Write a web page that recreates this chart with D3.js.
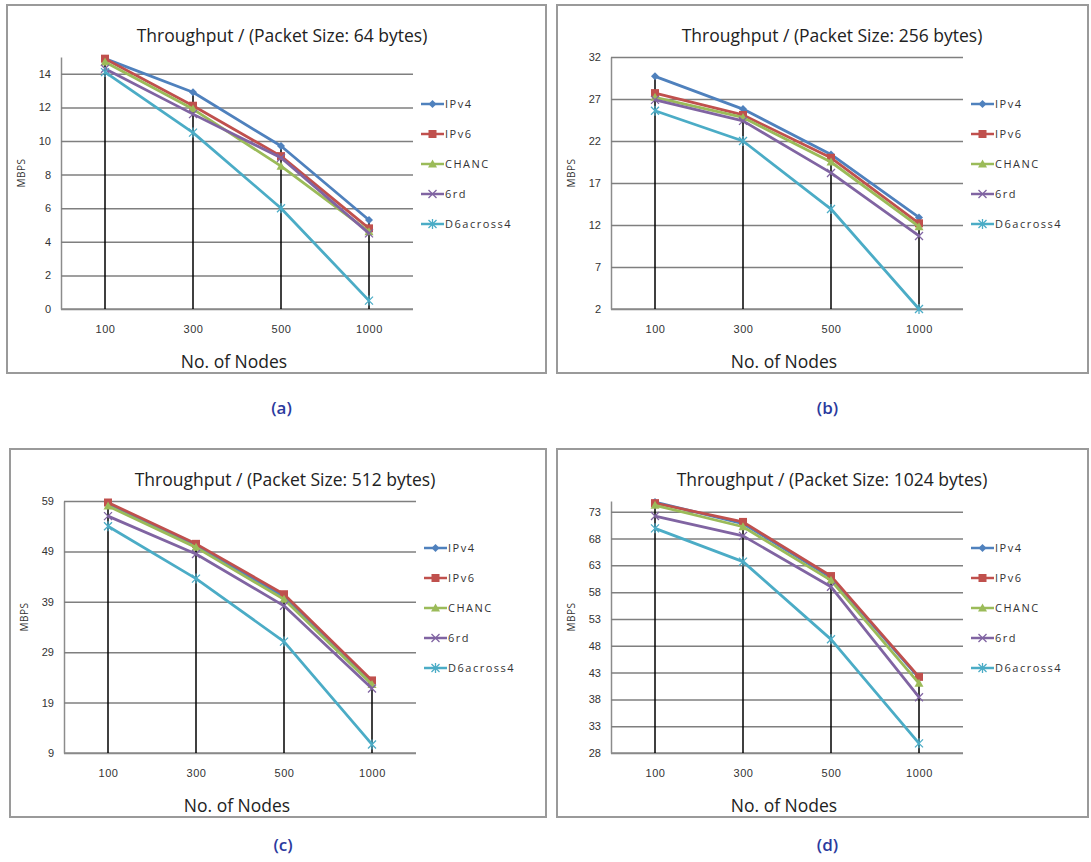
<!DOCTYPE html>
<html>
<head>
<meta charset="utf-8">
<script src="https://cdn.jsdelivr.net/npm/d3@7"></script>
<style>
  body { margin: 0; background: #fff; }
  svg { font-family: "Open Sans", "Noto Sans", sans-serif; }
  .grid line { stroke: #7f7f7f; stroke-width: 1.5; }
  .grid .domain { stroke: #8c8c8c; stroke-width: 1.5; }
  .grid text { fill: #333; font-size: 11px; }
  .xaxis .domain { stroke: #8c8c8c; stroke-width: 1.5; }
  .xaxis text { fill: #333; font-size: 11px; letter-spacing: 0.6px; }
</style>
</head>
<body>
<script>
// categories and series
var nodes = ["100", "300", "500", "1000"];
var seriesNames = ["IPv4", "IPv6", "CHANC", "6rd", "D6across4"];
var seriesColors = ["#4f81bd", "#c0504d", "#9bbb59", "#8064a2", "#4bacc6"];

// values, one row per series (IPv4, IPv6, CHANC, 6rd, D6across4)
var thr64 = [
    [14.9, 12.9, 9.7, 5.3],
    [14.9, 12.1, 9.1, 4.8],
    [14.7, 11.9, 8.5, 4.6],
    [14.3, 11.6, 9.0, 4.5],
    [14.1, 10.5, 6.0, 0.5]
];
var thr256 = [
    [29.7, 25.8, 20.4, 12.9],
    [27.7, 25.1, 20.0, 12.2],
    [27.2, 24.8, 19.5, 11.8],
    [26.9, 24.4, 18.2, 10.7],
    [25.6, 22.0, 13.9, 2.0]
];
var thr512 = [
    [58.5, 50.2, 40.0, 23.0],
    [58.7, 50.5, 40.5, 23.4],
    [58.0, 49.8, 39.5, 22.6],
    [56.0, 48.5, 38.2, 21.8],
    [54.0, 43.6, 31.1, 10.7]
];
var thr1024 = [
    [74.8, 70.8, 60.7, 42.0],
    [74.6, 71.1, 61.0, 42.2],
    [74.2, 70.2, 60.2, 41.0],
    [72.2, 68.5, 59.0, 38.4],
    [69.9, 63.7, 49.2, 29.8]
];

// y ticks and axis extents
var ticks64 = [0, 2, 4, 6, 8, 10, 12, 14];
var ticks256 = [2, 7, 12, 17, 22, 27, 32];
var ticks512 = [9, 19, 29, 39, 49, 59];
var ticks1024 = [28, 33, 38, 43, 48, 53, 58, 63, 68, 73];
var domain64 = [0, 15], domain256 = [2, 32], domain512 = [9, 59], domain1024 = [28, 75];

var panels = [
    { title: "Throughput / (Packet Size: 64 bytes)", caption: "(a)", data: thr64, ticks: ticks64, domain: domain64,
      fx: 7, fy: 5, fw: 539, fh: 368, capY: 414 },
    { title: "Throughput / (Packet Size: 256 bytes)", caption: "(b)", data: thr256, ticks: ticks256, domain: domain256,
      fx: 557, fy: 5, fw: 531, fh: 368, capY: 414 },
    { title: "Throughput / (Packet Size: 512 bytes)", caption: "(c)", data: thr512, ticks: ticks512, domain: domain512,
      fx: 10, fy: 449, fw: 536, fh: 368, capY: 851 },
    { title: "Throughput / (Packet Size: 1024 bytes)", caption: "(d)", data: thr1024, ticks: ticks1024, domain: domain1024,
      fx: 557, fy: 449, fw: 531, fh: 368, capY: 851 }
];

var svg = d3.select("body").append("svg")
    .attr("width", 1091)
    .attr("height", 862);

var plotW = 352;

panels.forEach(function (p) {
    var g = svg.append("g");

    // chart frame
    g.append("rect")
        .attr("x", p.fx).attr("y", p.fy)
        .attr("width", p.fw).attr("height", p.fh)
        .attr("fill", "#fff")
        .attr("stroke", "#9a9a9a")
        .attr("stroke-width", 2);

    var left = p.fx + 54,
        top = p.fy + 52,
        bottom = p.fy + 304;

    var x = d3.scalePoint().domain(nodes).range([left, left + plotW]).padding(0.5);
    var y = d3.scaleLinear().domain(p.domain).range([bottom, top]);

    // gridlines + y labels
    g.append("g")
        .attr("class", "grid")
        .attr("transform", "translate(" + left + ",0)")
        .call(d3.axisLeft(y).tickValues(p.ticks).tickSize(-plotW).tickPadding(10).tickSizeOuter(0));

    // x axis
    g.append("g")
        .attr("class", "xaxis")
        .attr("transform", "translate(0," + bottom + ")")
        .call(d3.axisBottom(x).tickSize(0).tickPadding(16))
        .select(".domain").attr("d", "M" + left + ",0H" + (left + plotW));

    // drop lines from the highest point down to the axis
    g.append("g").selectAll("line")
        .data(nodes)
        .enter().append("line")
        .attr("x1", function (d) { return x(d); })
        .attr("x2", function (d) { return x(d); })
        .attr("y1", bottom)
        .attr("y2", function (d, i) { return y(d3.max(p.data, function (s) { return s[i]; })); })
        .attr("stroke", "#000")
        .attr("stroke-width", 1.5);

    var line = d3.line()
        .x(function (d, i) { return x(nodes[i]); })
        .y(function (d) { return y(d); });

    p.data.forEach(function (vals, si) {
        g.append("path")
            .datum(vals)
            .attr("d", line)
            .attr("fill", "none")
            .attr("stroke", seriesColors[si])
            .attr("stroke-width", 2.8)
            .attr("stroke-linejoin", "round");
        vals.forEach(function (v, i) {
            drawMarker(g, si, x(nodes[i]), y(v));
        });
    });

    // title
    g.append("text")
        .attr("x", p.fx + 275)
        .attr("y", p.fy + 37)
        .attr("text-anchor", "middle")
        .attr("font-size", "17.5px")
        .attr("fill", "#222")
        .text(p.title);

    // axis titles
    g.append("text")
        .attr("x", left + plotW / 2 - 3)
        .attr("y", bottom + 59)
        .attr("text-anchor", "middle")
        .attr("font-size", "17.5px")
        .attr("fill", "#222")
        .text("No. of Nodes");

    g.append("text")
        .attr("transform", "translate(" + (p.fx + 18) + "," + (p.fy + 168) + ") rotate(-90)")
        .attr("text-anchor", "middle")
        .attr("font-size", "10px")
        .attr("letter-spacing", "0.5px")
        .attr("fill", "#333")
        .text("MBPS");

    // legend
    var leg = g.append("g");
    seriesNames.forEach(function (name, si) {
        var ly = p.fy + 99 + si * 30;
        leg.append("line")
            .attr("x1", p.fx + 414).attr("x2", p.fx + 437)
            .attr("y1", ly).attr("y2", ly)
            .attr("stroke", seriesColors[si])
            .attr("stroke-width", 2.5);
        drawMarker(leg, si, p.fx + 425.5, ly);
        leg.append("text")
            .attr("x", p.fx + 438)
            .attr("y", ly + 4)
            .attr("font-size", "11px")
            .attr("letter-spacing", "1.5px")
            .attr("fill", "#333")
            .text(name);
    });

    // caption below the chart
    svg.append("text")
        .attr("x", p.fx + p.fw / 2 + 5)
        .attr("y", p.capY)
        .attr("text-anchor", "middle")
        .attr("font-size", "17px")
        .attr("font-weight", 600)
        .attr("fill", "#2b3a9e")
        .text(p.caption);
});

function drawMarker(g, si, cx, cy) {
    var c = seriesColors[si];
    if (si === 0) {
        g.append("path")
            .attr("d", "M" + cx + "," + (cy - 4) + "L" + (cx + 4) + "," + cy + "L" + cx + "," + (cy + 4) + "L" + (cx - 4) + "," + cy + "Z")
            .attr("fill", c);
    } else if (si === 1) {
        g.append("rect")
            .attr("x", cx - 4).attr("y", cy - 4)
            .attr("width", 8).attr("height", 8)
            .attr("fill", c);
    } else if (si === 2) {
        g.append("path")
            .attr("d", "M" + cx + "," + (cy - 4.5) + "L" + (cx + 4.5) + "," + (cy + 3.5) + "L" + (cx - 4.5) + "," + (cy + 3.5) + "Z")
            .attr("fill", c);
    } else {
        var d = "M" + (cx - 4) + "," + (cy - 4) + "L" + (cx + 4) + "," + (cy + 4) +
                "M" + (cx - 4) + "," + (cy + 4) + "L" + (cx + 4) + "," + (cy - 4);
        if (si === 4) d += "M" + cx + "," + (cy - 5) + "L" + cx + "," + (cy + 5);
        g.append("path")
            .attr("d", d)
            .attr("stroke", c)
            .attr("stroke-width", 1.3)
            .attr("fill", "none");
    }
}
</script>
</body>
</html>
